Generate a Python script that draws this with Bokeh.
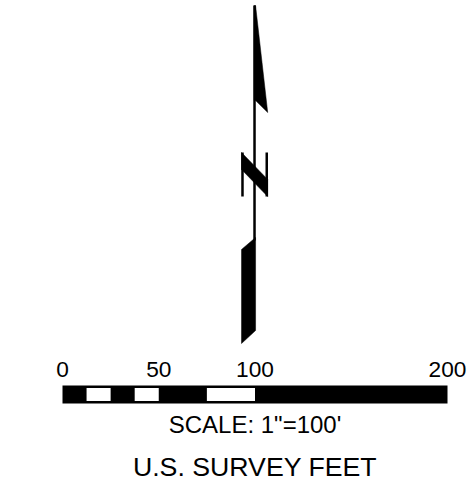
from bokeh.plotting import figure
from bokeh.models import Range1d
from bokeh.core.properties import value
from bokeh.embed import file_html
from bokeh.resources import INLINE

# Scale bar, in feet
bar_span = [0, 200]
white_starts = [12.5, 37.5, 75]
white_ends = [25, 50, 100]
tick_values = [0, 50, 100, 200]
tick_labels = ["0", "50", "100", "200"]
caption_scale = "SCALE: 1\"=100'"
caption_units = "U.S. SURVEY FEET"

# North arrow outline parts: x in feet along the scale, y in page rows
flag_x = [99.6, 100.3, 106.6, 100.3, 99.6]
flag_y = [5, 5, 112, 100, 100]
shaft_x = [99.75, 99.75]
shaft_y = [5, 240]
n_diag_x = [93.0, 106.6, 106.6, 93.0]
n_diag_y = [152, 179, 196, 169]
n_left_x = [93.5, 93.5]
n_right_x = [106.1, 106.1]
n_stem_y = [152, 196]
tail_x = [93.0, 100.3, 100.3, 93.0]
tail_y = [249, 237, 330, 343]

W, H = 469, 490
PX_PER_FT = 1.925
LEFT_PX = 62

p = figure(width=W, height=H, output_backend="svg", toolbar_location=None,
           x_range=Range1d(-LEFT_PX / PX_PER_FT, (W - LEFT_PX) / PX_PER_FT),
           y_range=Range1d(H, 0), min_border=0,
           background_fill_color="white", border_fill_color="white")
p.axis.visible = False
p.xgrid.visible = False
p.ygrid.visible = False
p.outline_line_color = None

# north arrow
p.line(shaft_x, shaft_y, line_color="black", line_width=2.5)
p.patch(flag_x, flag_y, fill_color="black", line_color="black", line_width=0.5)
p.patch(n_diag_x, n_diag_y, fill_color="black", line_color="black", line_width=0.5)
p.line(n_left_x, n_stem_y, line_color="black", line_width=2.5)
p.line(n_right_x, n_stem_y, line_color="black", line_width=2.5)
p.patch(tail_x, tail_y, fill_color="black", line_color="black", line_width=0.5)

# scale bar
p.quad(left=[bar_span[0]], right=[bar_span[1]], top=[385], bottom=[403],
       fill_color="black", line_color=None)
p.quad(left=white_starts, right=white_ends, top=[387.5] * 3, bottom=[400.5] * 3,
       fill_color="white", line_color=None)

font = value("Liberation Sans")
p.text(x=tick_values, y=[369] * 4, text=tick_labels, text_font=font, text_font_size="22.7px",
       text_align="center", text_baseline="middle", text_color="black")
p.text(x=[100], y=[424], text=[caption_scale], text_font=font, text_font_size="24px",
       text_align="center", text_baseline="middle", text_color="black")
p.text(x=[100], y=[466], text=[caption_units], text_font=font, text_font_size="26.7px",
       text_align="center", text_baseline="middle", text_color="black")

open("out.html", "w").write(file_html(p, INLINE))
